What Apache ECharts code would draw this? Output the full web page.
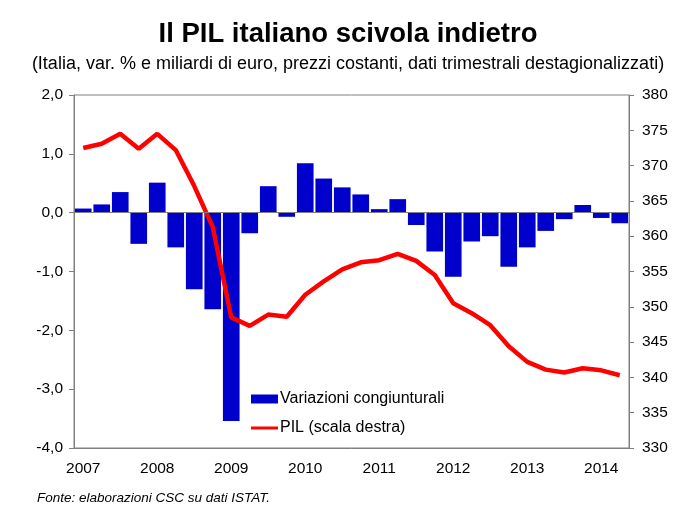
<!DOCTYPE html>
<html>
<head>
    <meta charset="utf-8">
    <title>Il PIL italiano scivola indietro</title>
    <script src="https://cdn.jsdelivr.net/npm/echarts@6/dist/echarts.min.js"></script>
</head>
<body style="margin: 0;">
    <main id="main" style="height: 507px; width: 696px;"></main>
    <script>
        // quarters 2007 T1 .. 2014 T2
        var years = ['2007', '2008', '2009', '2010', '2011', '2012', '2013', '2014'];
        var quarters = [];
        years.forEach(function (y) {
            for (var q = 1; q <= 4; q++) {
                if (y === '2014' && q > 2) return;
                quarters.push(y + ' T' + q);
            }
        });

        // variazioni congiunturali, %
        var variazioni = [
            0.07, 0.14, 0.35, -0.53, 0.51, -0.59, -1.30, -1.64,
            -3.54, -0.35, 0.45, -0.07, 0.84, 0.58, 0.43, 0.31,
            0.06, 0.23, -0.21, -0.66, -1.09, -0.49, -0.40, -0.92,
            -0.59, -0.31, -0.11, 0.13, -0.09, -0.18
        ];

        // PIL, miliardi di euro (scala destra)
        var pil = [
            372.5, 373.1, 374.5, 372.4, 374.5, 372.2, 367.1, 361.3,
            348.5, 347.3, 348.9, 348.6, 351.7, 353.6, 355.3, 356.3,
            356.6, 357.5, 356.5, 354.5, 350.5, 349.1, 347.4, 344.4,
            342.2, 341.1, 340.7, 341.3, 341.0, 340.3
        ];

        var FONT = 'Liberation Sans, Arial, sans-serif';

        var myChart = echarts.init(document.getElementById('main'));

        var option = {
            animation: false,
            textStyle: { fontFamily: FONT },
            title: [
                {
                    text: 'Il PIL italiano scivola indietro',
                    left: 'center',
                    top: 15,
                    textStyle: { fontFamily: FONT, fontSize: 27.5, fontWeight: 'bold', color: '#000' }
                },
                {
                    text: '(Italia, var. % e miliardi di euro, prezzi costanti, dati trimestrali destagionalizzati)',
                    left: 'center',
                    top: 50,
                    textStyle: { fontFamily: FONT, fontSize: 18, fontWeight: 'normal', color: '#000' }
                },
                {
                    text: 'Fonte: elaborazioni CSC su dati ISTAT.',
                    left: 32,
                    top: 486,
                    textStyle: { fontFamily: FONT, fontSize: 13.5, fontWeight: 'normal', fontStyle: 'italic', color: '#000' }
                }
            ],
            legend: {
                orient: 'vertical',
                left: 251,
                top: 391,
                padding: 0,
                itemWidth: 27,
                itemHeight: 9,
                itemGap: 13,
                textStyle: { fontFamily: FONT, fontSize: 16, color: '#000', padding: [0, 0, 0, -3] },
                data: [
                    { name: 'Variazioni congiunturali', icon: 'rect' },
                    { name: 'PIL (scala destra)', icon: 'path://M0,0 L27,0 L27,3 L0,3 Z' }
                ]
            },
            grid: {
                show: true,
                left: 74,
                right: 67,
                top: 95,
                bottom: 59,
                borderColor: '#808080',
                borderWidth: 1,
                backgroundColor: 'transparent'
            },
            xAxis: {
                type: 'category',
                data: quarters,
                boundaryGap: true,
                axisLine: { onZero: false, lineStyle: { color: '#808080' } },
                axisTick: { show: false },
                axisLabel: {
                    interval: 3,
                    margin: 13,
                    fontSize: 15.5,
                    color: '#000',
                    formatter: function (v) { return v.slice(0, 4); }
                },
                splitLine: { show: false }
            },
            yAxis: [
                {
                    type: 'value',
                    min: -4,
                    max: 2,
                    interval: 1,
                    axisLine: { show: true, lineStyle: { color: '#808080' } },
                    axisTick: { show: true, length: 5, lineStyle: { color: '#808080' } },
                    axisLabel: {
                        fontSize: 15.5,
                        color: '#000',
                        margin: 11,
                        formatter: function (v) { return v.toFixed(1).replace('.', ','); }
                    },
                    splitLine: { show: false }
                },
                {
                    type: 'value',
                    min: 330,
                    max: 380,
                    interval: 5,
                    axisLine: { show: true, lineStyle: { color: '#808080' } },
                    axisTick: { show: true, length: 5, lineStyle: { color: '#808080' } },
                    axisLabel: { fontSize: 15.5, color: '#000', margin: 13 },
                    splitLine: { show: false }
                }
            ],
            series: [
                {
                    name: 'Variazioni congiunturali',
                    type: 'bar',
                    yAxisIndex: 0,
                    data: variazioni,
                    barCategoryGap: '10%',
                    itemStyle: { color: '#0000CC' },
                    markLine: {
                        silent: true,
                        symbol: 'none',
                        label: { show: false },
                        lineStyle: { color: '#808080', width: 1, type: 'solid' },
                        data: [{ yAxis: 0 }]
                    }
                },
                {
                    name: 'PIL (scala destra)',
                    type: 'line',
                    yAxisIndex: 1,
                    data: pil,
                    symbol: 'none',
                    lineStyle: { color: '#FF0000', width: 4.5 },
                    itemStyle: { color: '#FF0000' }
                }
            ]
        };

        myChart.setOption(option);
    </script>
</body>
</html>
